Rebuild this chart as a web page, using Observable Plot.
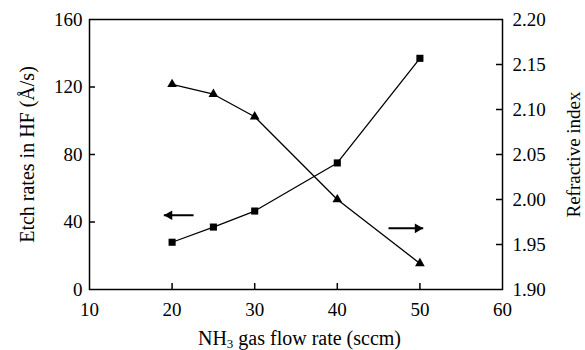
<!DOCTYPE html>
<html>
<head>
<meta charset="utf-8">
<script src="https://cdn.jsdelivr.net/npm/d3@7"></script>
<script src="https://cdn.jsdelivr.net/npm/@observablehq/plot@0.6"></script>
<style>
  html, body { margin: 0; padding: 0; background: #fff; }
  #chart svg { display: block; }
</style>
</head>
<body>
<div id="chart"></div>
<script>
// ---- data ----
const flowRate = [20, 25, 30, 40, 50];                 // sccm
const etchRate = [28, 37, 46.5, 75, 137];              // Å/s (left axis)
const refractiveIndex = [2.128, 2.117, 2.092, 2.000, 1.929]; // right axis
const xTicks = [10, 20, 30, 40, 50, 60];
const leftTicks = [0, 40, 80, 120, 160];
const rightTicks = [1.90, 1.95, 2.00, 2.05, 2.10, 2.15, 2.20];
const leftArrow = {from: 22.6, to: 19.0, level: 44};      // points to left axis
const rightArrow = {from: 46.2, to: 50.4, level: 1.968};  // points to right axis
const xLabel = ["NH", "3", " gas flow rate (sccm)"];
const yLeftLabel = "Etch rates in HF (Å/s)";
const yRightLabel = "Refractive index";

// ---- layout ----
const W = 585, H = 350;
const mL = 89, mR = 83, mT = 19, mB = 61;
const plotW = W - mL - mR, plotH = H - mT - mB;
const font = "Liberation Serif, Times New Roman, serif";
const fs = 19, fsTitle = 20;

// right axis mapped onto the left (etch-rate) scale
const rMin = 1.90, rMax = 2.20, lMax = 160;
const toLeft = v => (v - rMin) / (rMax - rMin) * lMax;
const fromLeft = y => rMin + y / lMax * (rMax - rMin);

const etchData = flowRate.map((x, i) => ({x, y: etchRate[i]}));
const riData = flowRate.map((x, i) => ({x, y: toLeft(refractiveIndex[i])}));
const arrowL = [{x1: leftArrow.from, x2: leftArrow.to, y: leftArrow.level}];
const arrowR = [{x1: rightArrow.from, x2: rightArrow.to, y: toLeft(rightArrow.level)}];

const chart = Plot.plot({
  width: W, height: H,
  marginLeft: mL, marginRight: mR, marginTop: mT, marginBottom: mB,
  style: {fontFamily: font, fontSize: fs + "px", color: "black", background: "white"},
  x: {domain: [10, 60]},
  y: {domain: [0, 160]},
  marks: [
    // tick labels
    Plot.axisX(xTicks, {tickSize: 0, tickPadding: 13, fontSize: fs, label: null}),
    Plot.axisY(leftTicks, {anchor: "left", tickSize: 0, tickPadding: 7, fontSize: fs, label: null}),
    Plot.axisY(rightTicks.map(toLeft), {anchor: "right", tickSize: 0, tickPadding: 10, fontSize: fs,
      label: null, tickFormat: y => fromLeft(y).toFixed(2)}),
    // inward ticks
    Plot.tickX(xTicks.slice(1, -1), {x: d => d, insetTop: plotH - 6, stroke: "black", strokeWidth: 1.5}),
    Plot.tickY(leftTicks.slice(1, -1), {y: d => d, insetRight: plotW - 6, stroke: "black", strokeWidth: 1.5}),
    Plot.tickY(rightTicks.slice(1, -1).map(toLeft), {y: d => d, insetLeft: plotW - 6, stroke: "black", strokeWidth: 1.5}),
    // series
    Plot.line(etchData, {x: "x", y: "y", stroke: "black", strokeWidth: 1.3}),
    Plot.dot(etchData, {x: "x", y: "y", symbol: "square", r: 4, fill: "black", stroke: "none"}),
    Plot.line(riData, {x: "x", y: "y", stroke: "black", strokeWidth: 1.3}),
    Plot.dot(riData, {x: "x", y: "y", symbol: "triangle", r: 3.6, fill: "black", stroke: "none"}),
    // arrows
    Plot.link(arrowL, {x1: "x1", x2: "x2", y1: "y", y2: "y", stroke: "black", strokeWidth: 2}),
    Plot.dot(arrowL, {x: "x2", y: "y", dx: 5.6, symbol: "triangle", r: 3.6, rotate: -90, fill: "black", stroke: "none"}),
    Plot.link(arrowR, {x1: "x1", x2: "x2", y1: "y", y2: "y", stroke: "black", strokeWidth: 2}),
    Plot.dot(arrowR, {x: "x2", y: "y", dx: -5.6, symbol: "triangle", r: 3.6, rotate: 90, fill: "black", stroke: "none"}),
    // axis titles
    Plot.text([yLeftLabel], {text: d => d, frameAnchor: "left", textAnchor: "middle", dx: -62, rotate: -90, fontSize: fsTitle}),
    Plot.text([yRightLabel], {text: d => d, frameAnchor: "right", textAnchor: "middle", dx: 71, rotate: -90, fontSize: 19}),
    Plot.frame({stroke: "black", strokeWidth: 1.5})
  ]
});

// x axis title with subscript
const xt = d3.select(chart).append("text")
  .attr("x", mL + plotW / 2 + 4)
  .attr("y", H - 5)
  .attr("text-anchor", "middle")
  .attr("font-family", font)
  .attr("font-size", fsTitle)
  .attr("fill", "black");
xt.append("tspan").text(xLabel[0]);
xt.append("tspan").text(xLabel[1]).attr("font-size", fsTitle * 0.65).attr("dy", 3);
xt.append("tspan").text(xLabel[2]).attr("dy", -3);

document.getElementById("chart").appendChild(chart);
</script>
</body>
</html>
